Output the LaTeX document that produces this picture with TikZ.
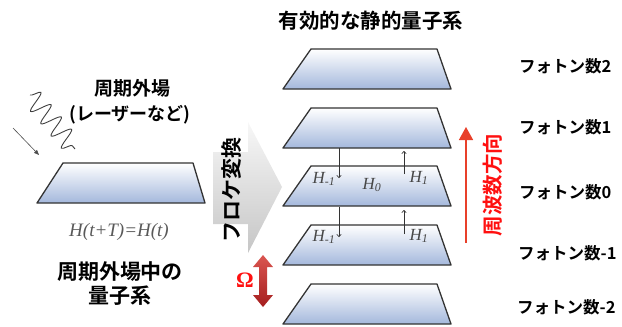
\documentclass[tikz,border=0pt]{standalone}
\usepackage{fontspec}
\setmainfont{Noto Sans CJK JP}[BoldFont={Noto Sans CJK JP Bold}]
\newfontfamily\tms{Liberation Serif}
\usetikzlibrary{arrows.meta,decorations.pathmorphing,shapes.geometric}
\definecolor{trapblue}{HTML}{A4B8DC}
\definecolor{trapedge}{HTML}{333333}
\definecolor{redarrow}{HTML}{E8402A}
\definecolor{redtext}{HTML}{FF1010}
\definecolor{omegatop}{HTML}{DA5550}
\definecolor{omegabot}{HTML}{A51E1E}
\tikzset{
  trap/.style={draw=trapedge, line width=1.3pt, line join=round, top color=white, bottom color=trapblue},
  jptext/.style={font=\bfseries\fontsize{#1}{#1}\selectfont, inner sep=0pt},
  photon/.style={jptext=16.5, anchor=west},
  hlabel/.style={font=\tms\itshape\fontsize{17}{17}\selectfont, text=black!72, inner sep=0pt},
  smallarrow/.style={draw=black!80, line width=0.6pt, -{To[length=3pt,width=5pt]}},
}
\newcommand{\mylayer}[1]{%
  \path[trap] (311,#1) -- (437,#1) -- (451,#1+40) -- (283,#1+40) -- cycle;}
\begin{document}
\begin{tikzpicture}[x=1pt,y=-1pt]
\path[use as bounding box] (0,0) rectangle (622,327);

% Floquet big arrow
\path[top color=gray!6, bottom color=gray!45]
  (213,152) -- (248,152) -- (248,122) -- (282,187) -- (248,253) -- (248,224) -- (213,224) -- cycle;
\node[jptext=21, rotate=90] (floquet) at (232,190) {フロケ変換};

% layers
\mylayer{49}
\mylayer{108}
\mylayer{166}
\mylayer{225}
\mylayer{284}

% left trapezoid
\path[trap] (63,163) -- (193,163) -- (205,203) -- (37,203) -- cycle;

% coordinates for coupling arrows
\coordinate (d1s) at (339,148); \coordinate (d1e) at (339,178);
\coordinate (u1s) at (404,174); \coordinate (u1e) at (404,151);
\coordinate (d2s) at (339,207); \coordinate (d2e) at (339,237);
\coordinate (u2s) at (404,234); \coordinate (u2e) at (404,210);
\draw[smallarrow] (d1s) -- (d1e);
\draw[smallarrow] (u1s) -- (u1e);
\draw[smallarrow] (d2s) -- (d2e);
\draw[smallarrow] (u2s) -- (u2e);

% H labels
\node[hlabel] (hm1a) at (324,179) {H\textsubscript{-1}};
\node[hlabel] (h0) at (372,185) {H\textsubscript{0}};
\node[hlabel] (h1a) at (419,178) {H\textsubscript{1}};
\node[hlabel] (hm1b) at (324,237) {H\textsubscript{-1}};
\node[hlabel] (h1b) at (419,236) {H\textsubscript{1}};

% title
\node[jptext=20.5] (title) at (371,21) {有効的な静的量子系};

% photon labels
\node[photon] (p2) at (519,66) {フォトン数2};
\node[photon] (p1) at (519,127) {フォトン数1};
\node[photon] (p0) at (519,192) {フォトン数0};
\node[photon] (pm1) at (518,253) {フォトン数-1};
\node[photon] (pm2) at (517,307) {フォトン数-2};

% red frequency arrow
\coordinate (fstart) at (466,243);
\coordinate (fend) at (466,127);
\draw[redarrow, line width=1.5pt, -{Triangle[length=13pt,width=14pt]}] (fstart) -- (fend);
\node[jptext=20.5, rotate=90, text=redtext] (freq) at (493,185) {周波数方向};

% Omega arrow
\path[top color=omegatop, bottom color=omegabot]
  (263,255) -- (273,267) -- (267,267) -- (267,295) -- (273,295) -- (263,307)
  -- (253,295) -- (259,295) -- (259,267) -- (253,267) -- cycle;
\node[font=\tms\bfseries\fontsize{22}{22}\selectfont, text=redtext, inner sep=0pt] (omega) at (245,280) {Ω};

% left side texts
\node[jptext=19] (field) at (132,88) {周期外場};
\node[jptext=18] (laser) at (130,115) {(レーザーなど)};
\node[font=\tms\itshape\fontsize{19}{19}\selectfont, text=black!65, inner sep=0pt] (heq) at (119,232) {H(t+T)=H(t)};
\node[jptext=21] (sys1) at (120,272) {周期外場中の};
\node[jptext=21] (sys2) at (120,296) {量子系};

% wave and incoming arrow
\coordinate (wa) at (30,95);
\coordinate (wb) at (75,149);
\draw[black!75, line width=0.9pt, decorate, decoration={snake, amplitude=10pt, segment length=16pt}] (wa) -- (wb);
\coordinate (ia) at (13,128);
\coordinate (ib) at (39,155);
\draw[black!70, line width=0.6pt, -{Triangle[length=5pt,width=4pt]}] (ia) -- (ib);
\end{tikzpicture}
\end{document}
